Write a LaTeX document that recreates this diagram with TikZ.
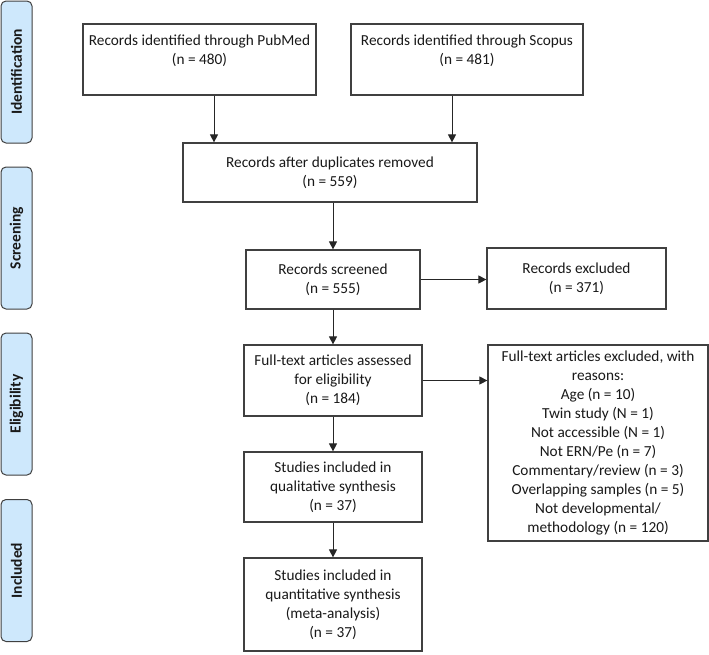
\documentclass[tikz,border=0pt]{standalone}
\usepackage{fontspec}
\setmainfont{Carlito}
\usetikzlibrary{arrows.meta}
\definecolor{sidefill}{RGB}{206,232,252}
\definecolor{edge}{RGB}{64,64,64}
\tikzset{
  box/.style={draw=edge, line width=1.2pt, fill=white, inner sep=0pt, align=center,
    font=\fontsize{15.3}{19}\selectfont, text=black!90},
  side/.style={draw=edge, line width=1pt, fill=sidefill, rounded corners=5pt, inner sep=0pt,
    minimum width=142pt, minimum height=31pt, rotate=90,
    font=\fontsize{15.5}{18}\selectfont\bfseries, text=black!90},
  arr/.style={draw=black!85, line width=0.9pt, -{Triangle[length=8pt,width=8pt]}}
}
\begin{document}
\begin{tikzpicture}[x=1pt,y=-1pt]
\useasboundingbox (0,0) rectangle (709,654);
% side labels
\node[side] (sid) at (16.5,72) {Identification};
\node[side] (sscr) at (16.5,238) {Screening};
\node[side] (self) at (16.5,404) {Eligibility};
\node[side] (sinc) at (16.5,570.5) {Included};
% boxes
\node[box, minimum width=233pt, minimum height=71pt] (pub) at (199.5,59.5)
  {Records identified through PubMed\\(n = 480)\\~};
\node[box, minimum width=232pt, minimum height=71pt] (sco) at (467,59.5)
  {Records identified through Scopus\\(n = 481)\\~};
\node[box, minimum width=294pt, minimum height=59pt] (dup) at (330,172.5)
  {Records after duplicates removed\\(n = 559)};
\node[box, minimum width=174pt, minimum height=59pt] (scr) at (333,279.5)
  {Records screened\\(n = 555)};
\node[box, minimum width=179pt, minimum height=61pt] (exc) at (576.5,278.5)
  {Records excluded\\(n = 371)};
\node[box, minimum width=178pt, minimum height=71pt] (ful) at (333,380.5)
  {Full-text articles assessed\\for eligibility\\(n = 184)};
\node[box, minimum width=220pt, minimum height=196pt] (fex) at (598,443)
  {Full-text articles excluded, with\\reasons:\\Age (n = 10)\\Twin study (N = 1)\\Not accessible (N = 1)\\Not ERN/Pe (n = 7)\\Commentary/review (n = 3)\\Overlapping samples (n = 5)\\Not developmental/\\methodology (n = 120)};
\node[box, minimum width=178pt, minimum height=70pt] (qual) at (333,487)
  {Studies included in\\qualitative synthesis\\(n = 37)};
\node[box, minimum width=178pt, minimum height=93pt] (quan) at (333,604.5)
  {Studies included in\\quantitative synthesis\\(meta-analysis)\\(n = 37)};
% connectors
\draw[arr] ([xshift=14.5pt]pub.south) -- ([xshift=14.5pt]pub.south |- dup.north);
\draw[arr] ([xshift=-15pt]sco.south) -- ([xshift=-15pt]sco.south |- dup.north);
\draw[arr] (scr.north |- dup.south) -- (scr.north);
\draw[arr] (scr.east) -- (scr.east -| exc.west);
\draw[arr] (scr.south) -- (ful.north);
\draw[arr] (ful.east) -- (ful.east -| fex.west);
\draw[arr] (ful.south) -- (qual.north);
\draw[arr] (qual.south) -- (quan.north);
\end{tikzpicture}
\end{document}
